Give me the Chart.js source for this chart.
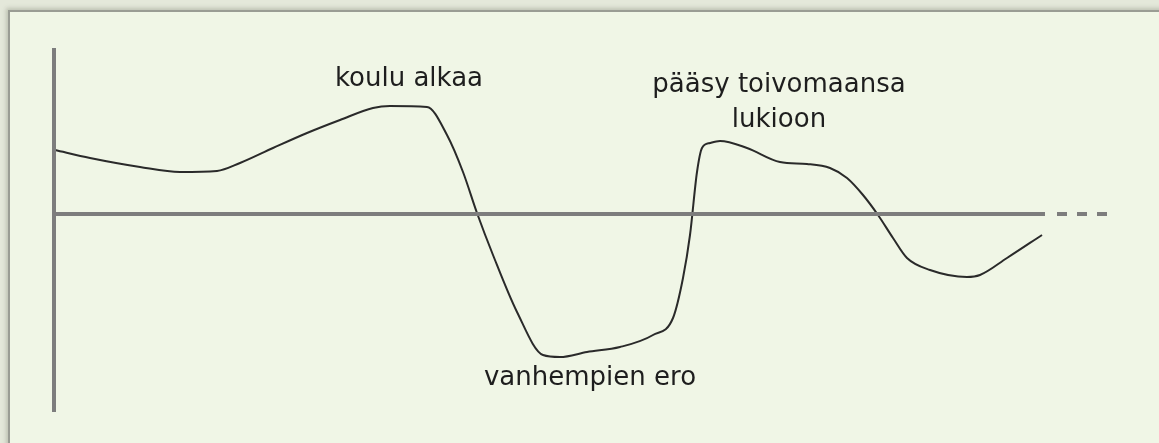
<!DOCTYPE html>
<html>
<head>
<meta charset="utf-8">
<script src="https://cdn.jsdelivr.net/npm/chart.js@4.4.0/dist/chart.umd.min.js"></script>
<style>
  html, body { margin:0; padding:0; width:1159px; height:443px; overflow:hidden; background:#e4e8da; }
  #frame { position:absolute; left:8px; top:10px; width:1200px; height:500px;
    background:#f0f6e6; border-top:2px solid #9a9d94; border-left:2px solid #9a9d94;
    box-shadow:-2px -2px 4px rgba(120,125,110,0.35); }
  #wrap { position:absolute; left:0; top:0; width:1159px; height:443px; }
</style>
</head>
<body>
<div id="frame"></div>
<div id="wrap"><canvas id="c" width="1159" height="443"></canvas></div>
<script>
// time (x) and mood (y)
const curveX = [0.1,3.6,8.6,12.6,16.3,18.6,21.9,25.3,28.6,31.9,33.6,37.3,39.3,40.9,42.3,43.9,46.3,48.9,50.6,53.3,56.6,59.9,61.9,62.9,63.6,64.3,64.8,65.6,66.6,69.3,72.6,75.3,77.6,79.3,80.9,82.4,83.9,85.3,87.6,91.3,92.6,95.3,98.8];
const curveY = [6.4,5.6,4.7,4.2,4.3,5.1,6.6,8.1,9.4,10.6,10.8,10.7,7.9,4.2,0.1,-4.1,-9.8,-14.1,-14.3,-13.8,-13.3,-12.1,-10.4,-6.4,-2.1,4.2,6.6,7.1,7.3,6.6,5.2,5.0,4.6,3.6,1.9,-0.1,-2.4,-4.4,-5.6,-6.3,-6.1,-4.4,-2.1];
const baseSolidX = [0, 99.1];
const baseDashX = [100.3, 105.3];
const axisYRange = [-19.8, 16.6];
const labelTexts = ["koulu alkaa", "pääsy toivomaansa", "lukioon", "vanhempien ero"];
const labelX = [35.5, 72.5, 72.5, 53.6];
const labelY = [12.8, 12.2, 8.7, -17.1];

const pts = (xs, ys) => xs.map((x, i) => ({x, y: ys[i]}));

const labelPlugin = {
  id: 'labels',
  afterDatasetsDraw(chart) {
    const {ctx, scales} = chart;
    ctx.save();
    ctx.font = '26px "DejaVu Sans", sans-serif';
    ctx.fillStyle = '#1e1e1e';
    ctx.textAlign = 'center';
    ctx.textBaseline = 'alphabetic';
    labelTexts.forEach((t, i) => {
      ctx.fillText(t, scales.x.getPixelForValue(labelX[i]), scales.y.getPixelForValue(labelY[i]));
    });
    ctx.restore();
  }
};

new Chart(document.getElementById('c'), {
  type: 'line',
  data: {
    datasets: [
      { data: pts(baseSolidX, [0, 0]), borderColor: '#7d7d7d', borderWidth: 4, pointRadius: 0, clip: false, borderCapStyle: 'butt' },
      { data: pts(baseDashX, [0, 0]), borderColor: '#7d7d7d', borderWidth: 4, borderDash: [10, 10], pointRadius: 0, clip: false },
      { data: pts([0, 0], axisYRange), borderColor: '#7d7d7d', borderWidth: 4, pointRadius: 0, clip: false },
      { data: pts(curveX, curveY), borderColor: '#2a2a2a', borderWidth: 2, pointRadius: 0, cubicInterpolationMode: 'monotone', clip: false }
    ]
  },
  options: {
    responsive: false,
    animation: false,
    layout: { padding: { left: 54, right: 52, top: 48, bottom: 31 } },
    plugins: { legend: { display: false }, tooltip: { enabled: false } },
    scales: {
      x: { type: 'linear', min: 0, max: 105.3, display: false },
      y: { type: 'linear', min: -19.8, max: 16.6, display: false }
    }
  },
  plugins: [labelPlugin]
});
</script>
</body>
</html>
